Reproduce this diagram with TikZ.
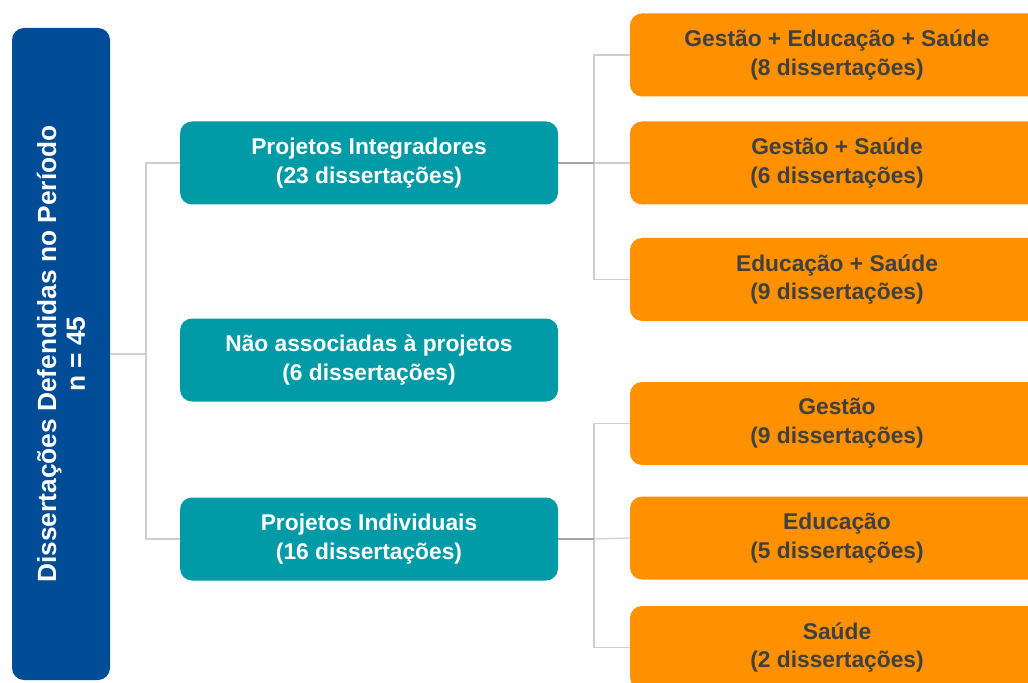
\documentclass[tikz,border=0pt]{standalone}
\usepackage{fontspec}
\setmainfont{Liberation Sans}
\definecolor{fundoazul}{HTML}{004C97}
\definecolor{verdeagua}{HTML}{009BA6}
\definecolor{laranja}{HTML}{FF9100}
\definecolor{textocinza}{HTML}{404040}
\definecolor{linhacinza}{HTML}{CFCFCF}
\tikzset{
    caixa/.style={rounded corners=0.3cm, align=center, inner sep=0pt,
        font=\fontsize{16.2}{20.6}\selectfont\bfseries},
    total/.style={caixa, fill=fundoazul, text=white, rotate=90,
        font=\fontsize{18.7}{20.5}\selectfont\bfseries,
        minimum width=16.3cm, minimum height=2.45cm},
    grupo/.style={caixa, fill=verdeagua, text=white,
        minimum width=9.45cm, minimum height=2.075cm},
    tema/.style={caixa, fill=laranja, text=textocinza,
        minimum width=10.35cm, minimum height=2.075cm},
    ligacao/.style={draw=linhacinza, line width=0.9pt},
    ligforte/.style={draw=gray!70, line width=0.9pt}
}
\begin{document}
\begin{tikzpicture}
    \useasboundingbox (0,0) rectangle (25.7,17.05);
    \clip (0,0) rectangle (25.7,17.05);
    % coluna da esquerda
    \node[total] (diss) at (1.525,8.2) {Dissertações Defendidas no Período\\n = 45};
    % grupos
    \node[grupo] (integ) at (9.225,12.975) {Projetos Integradores\\(23 dissertações)};
    \node[grupo] (naoassoc) at (9.225,8.05) {Não associadas à projetos\\(6 dissertações)};
    \node[grupo] (indiv) at (9.225,3.575) {Projetos Individuais\\(16 dissertações)};
    % temas
    \node[tema] (gesedsau) at (20.925,15.675) {Gestão + Educação + Saúde\\(8 dissertações)};
    \node[tema] (gessau) at (20.925,12.975) {Gestão + Saúde\\(6 dissertações)};
    \node[tema] (edsau) at (20.925,10.0625) {Educação + Saúde\\(9 dissertações)};
    \node[tema] (gestao) at (20.925,6.4625) {Gestão\\(9 dissertações)};
    \node[tema] (educ) at (20.925,3.6) {Educação\\(5 dissertações)};
    \node[tema] (saude) at (20.925,0.8625) {Saúde\\(2 dissertações)};
    % pontos de ramificacao
    \coordinate (troncoA) at (3.65,8.2);
    \coordinate (troncoB) at (14.85,12.975);
    \coordinate (troncoC) at (14.85,3.575);
    % ligacoes
    \draw[ligacao] (diss.south) -- (troncoA);
    \draw[ligacao] (integ.west) -| (troncoA) |- (indiv.west);
    \draw[ligacao] (gesedsau.west) -| (troncoB) |- (edsau.west);
    \draw[ligacao] (gestao.west) -| (troncoC) |- (saude.west);
    \draw[ligforte] (integ.east) -- (troncoB);
    \draw[ligacao] (troncoB) -- (gessau.west);
    \draw[ligforte] (indiv.east) -- (troncoC);
    \draw[ligacao] (troncoC) -- (educ.west);
\end{tikzpicture}
\end{document}
